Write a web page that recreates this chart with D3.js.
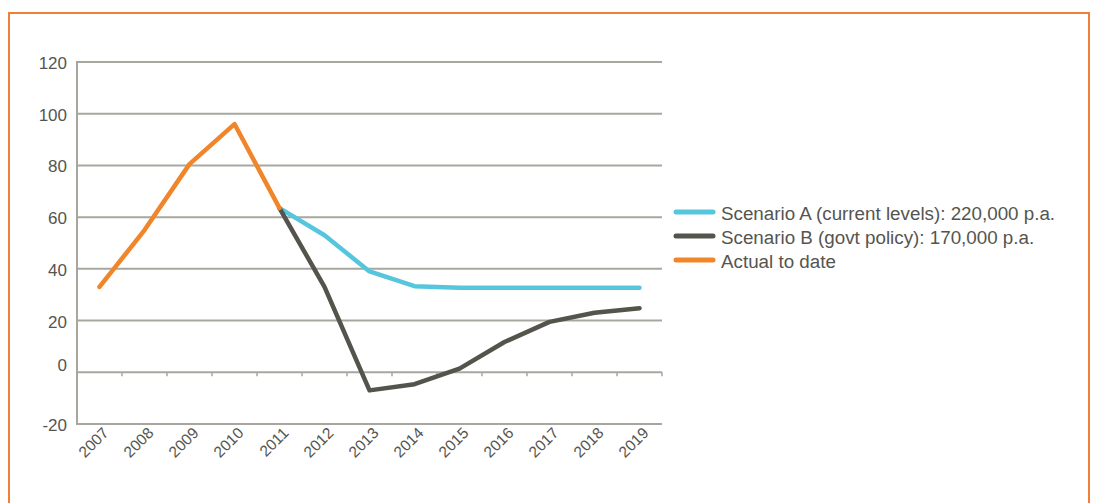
<!DOCTYPE html>
<html>
<head>
<meta charset="utf-8">
<script src="https://cdn.jsdelivr.net/npm/d3@7"></script>
<style>
  body { margin: 0; background: #fff; }
  text { font-family: "Liberation Sans", Arial, sans-serif; fill: #55554f; }
</style>
</head>
<body>
<div class="plot"></div>
<script>
// Data
const years = ["2007","2008","2009","2010","2011","2012","2013","2014","2015","2016","2017","2018","2019"];
const actual    = [33, 55, 80.5, 96, 63.5, null, null, null, null, null, null, null, null];
const scenarioA = [null, null, null, null, 63.5, 53, 39, 33.3, 32.7, 32.7, 32.7, 32.7, 32.7];
const scenarioB = [null, null, null, null, 63.5, 33, -7, -4.6, 1.4, 11.7, 19.5, 23, 24.8];
const yTicks = [-20, 0, 20, 40, 60, 80, 100, 120];
const legendLabels = ["Scenario A (current levels): 220,000 p.a.", "Scenario B (govt policy): 170,000 p.a.", "Actual to date"];

const colA = "#56c6dd", colB = "#54544c", colActual = "#f0852a", colGrid = "#a7a7a0";

const W = 1095, H = 503;
const svg = d3.select(".plot")
    .append("svg")
        .attr("width", W)
        .attr("height", H);

// Orange frame
svg.append("rect")
    .attr("x", 9).attr("y", 13)
    .attr("width", 1080).attr("height", 520)
    .attr("fill", "none")
    .attr("stroke", "#f07f3a")
    .attr("stroke-width", 2);

// Scales
const x = d3.scaleBand().domain(years).range([77, 662]);
const y = d3.scaleLinear().domain([-20, 120]).range([424, 62]);
const cx = d => x(d) + x.bandwidth() / 2;

// Horizontal gridlines
svg.append("g")
    .selectAll("line")
    .data(yTicks)
    .enter()
    .append("line")
        .attr("x1", 77).attr("x2", 662)
        .attr("y1", d => y(d)).attr("y2", d => y(d))
        .attr("stroke", colGrid)
        .attr("stroke-width", 2);

// Left axis line
svg.append("line")
    .attr("x1", 77).attr("x2", 77)
    .attr("y1", y(120) - 1).attr("y2", y(-20) + 1)
    .attr("stroke", colGrid)
    .attr("stroke-width", 2);

// Y tick labels
svg.append("g")
    .selectAll("text")
    .data(yTicks)
    .enter()
    .append("text")
        .attr("x", 67)
        .attr("y", d => y(d) + (d === 0 ? -1 : 7))
        .attr("text-anchor", "end")
        .style("font-size", "17px")
        .text(d => d);

// Small ticks on the zero line at category boundaries
svg.append("g")
    .selectAll("line")
    .data(years)
    .enter()
    .append("line")
        .attr("x1", d => x(d) + x.bandwidth())
        .attr("x2", d => x(d) + x.bandwidth())
        .attr("y1", y(0)).attr("y2", y(0) + 4)
        .attr("stroke", colGrid)
        .attr("stroke-width", 1.5);

// X labels, rotated
svg.append("g")
    .selectAll("text")
    .data(years)
    .enter()
    .append("text")
        .attr("text-anchor", "end")
        .attr("transform", d => `translate(${cx(d) + 10},${434}) rotate(-45)`)
        .style("font-size", "15.5px")
        .text(d => d);

// Lines
const line = d3.line()
    .defined(d => d.v != null)
    .x(d => cx(d.year))
    .y(d => y(d.v));

const series = [
    {values: scenarioA, color: colA},
    {values: scenarioB, color: colB},
    {values: actual, color: colActual}
];

svg.append("g")
    .selectAll("path")
    .data(series)
    .enter()
    .append("path")
        .attr("d", s => line(years.map((yr, i) => ({year: yr, v: s.values[i]}))))
        .attr("fill", "none")
        .attr("stroke", s => s.color)
        .attr("stroke-width", 4.5)
        .attr("stroke-linejoin", "round")
        .attr("stroke-linecap", "round");

// Legend
const legendColors = [colA, colB, colActual];
const lg = svg.append("g").attr("transform", "translate(676,212)");
legendLabels.forEach((lab, i) => {
    const row = lg.append("g").attr("transform", `translate(0,${i * 24})`);
    row.append("line")
        .attr("x1", 0).attr("x2", 37)
        .attr("y1", 0).attr("y2", 0)
        .attr("stroke", legendColors[i])
        .attr("stroke-width", 5)
        .attr("stroke-linecap", "round");
    row.append("text")
        .attr("x", 45).attr("y", 7.5)
        .style("font-size", "18.8px")
        .text(lab);
});
</script>
</body>
</html>
